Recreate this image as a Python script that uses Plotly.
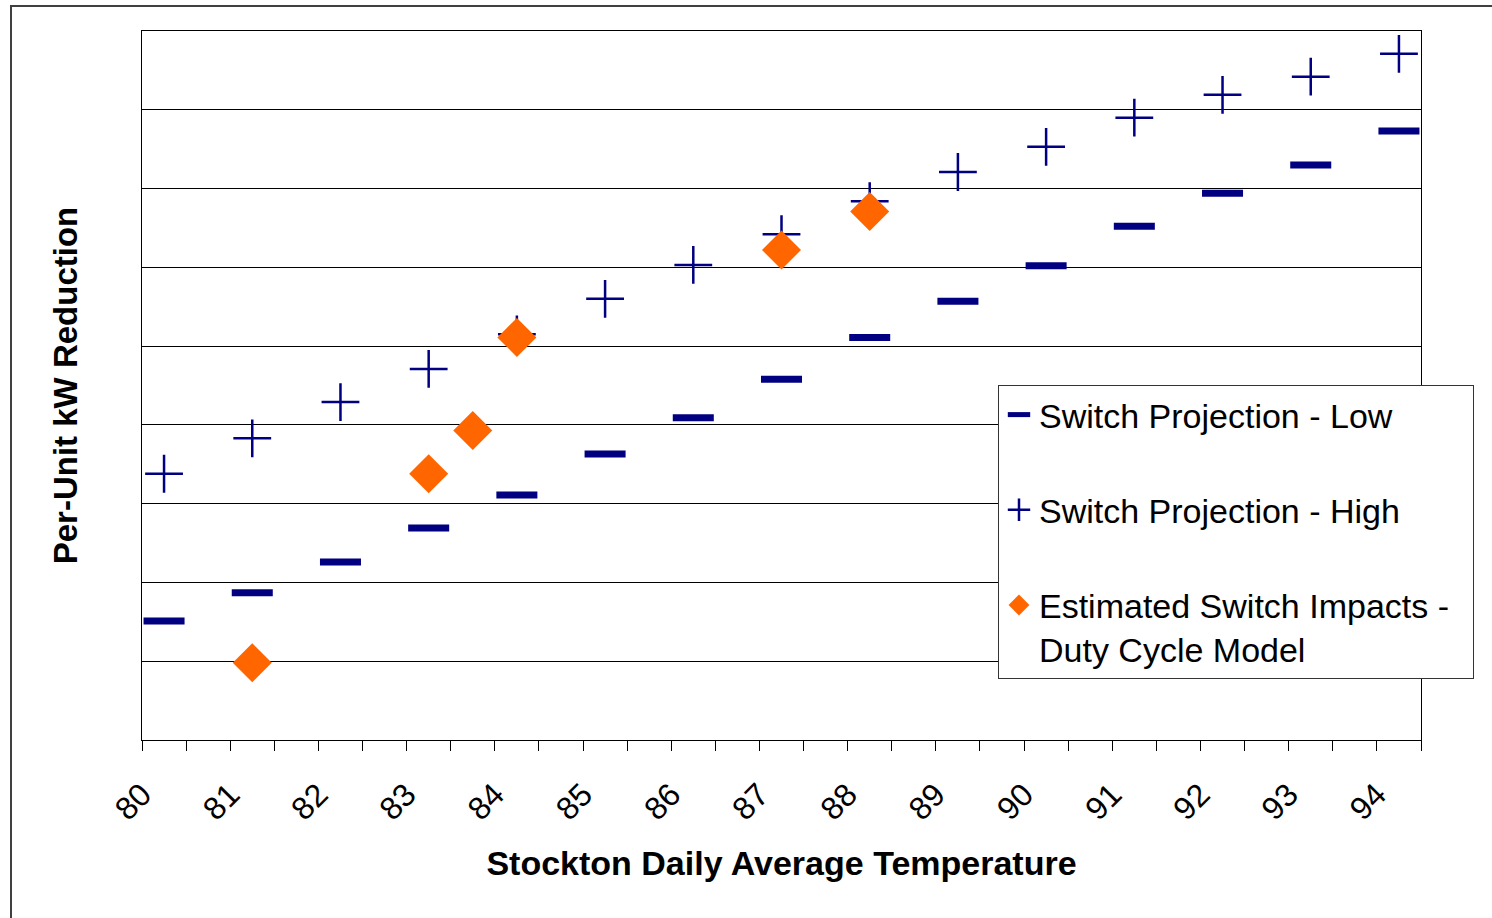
import plotly.graph_objects as go

# Temperature bins (deg F) and projected per-unit kW reduction
temps = [80.25, 81.25, 82.25, 83.25, 84.25, 85.25, 86.25, 87.25,
         88.25, 89.25, 90.25, 91.25, 92.25, 93.25, 94.25]
proj_low = [0.151, 0.187, 0.226, 0.269, 0.311, 0.363, 0.409, 0.458,
            0.511, 0.557, 0.602, 0.652, 0.694, 0.730, 0.773]
proj_high = [0.338, 0.383, 0.429, 0.471, 0.515, 0.560, 0.603, 0.642,
             0.684, 0.721, 0.753, 0.790, 0.819, 0.842, 0.871]

# Duty-cycle model estimates
est_temps = [81.25, 83.25, 83.75, 84.25, 87.25, 88.25]
est_impacts = [0.098, 0.338, 0.393, 0.511, 0.622, 0.671]

tick_vals = [80, 81, 82, 83, 84, 85, 86, 87, 88, 89, 90, 91, 92, 93, 94]
tick_text = [str(v) for v in tick_vals]

FONT = "Liberation Sans, Arial, sans-serif"
NAVY = "#000080"
ORANGE = "#FF6600"

W, H = 1492, 918
L, R, T, B = 142, 71, 31, 178
PW, PH = W - L - R, H - T - B


def px_x(p):
    return (p - L) / PW


def px_y(p):
    return (H - B - p) / PH


fig = go.Figure()

fig.add_trace(go.Scatter(
    x=temps, y=proj_low, mode="markers", name="Switch Projection - Low",
    legendgroup="low",
    marker=dict(symbol="line-ew", size=29.3, color=NAVY,
                line=dict(color=NAVY, width=7)),
))
fig.add_trace(go.Scatter(
    x=temps, y=proj_high, mode="markers", name="Switch Projection - High",
    legendgroup="high",
    marker=dict(symbol="cross-thin", size=27, color=NAVY,
                line=dict(color=NAVY, width=2.5)),
))
fig.add_trace(go.Scatter(
    x=est_temps, y=est_impacts, mode="markers",
    name="Estimated Switch Impacts -&nbsp;&nbsp;<br>Duty Cycle Model",
    legendgroup="est",
    marker=dict(symbol="diamond", size=30, color=ORANGE,
                line=dict(width=0)),
))

fig.update_layout(
    width=W, height=H,
    margin=dict(l=L, r=R, t=T, b=B, autoexpand=False),
    paper_bgcolor="white", plot_bgcolor="white",
    font=dict(family=FONT, color="black"),
    showlegend=True,
    legend=dict(
        x=px_x(998), y=px_y(385), xanchor="left", yanchor="top",
        bgcolor="white", bordercolor="#333333", borderwidth=1,
        font=dict(family=FONT, size=34, color="black"),
        tracegroupgap=48, valign="top", itemsizing="trace",
    ),
    xaxis=dict(
        range=[80, 94.5], tickvals=tick_vals, ticktext=tick_text,
        tickangle=-45, tickfont=dict(family=FONT, size=32, color="black"),
        ticklabelstandoff=12,
        ticks="outside", ticklen=10, tickcolor="black", tickwidth=1,
        minor=dict(dtick=0.5, tick0=80, ticks="outside", ticklen=10,
                   tickcolor="black", tickwidth=1, showgrid=False),
        showgrid=False, zeroline=False,
        showline=True, linecolor="black", linewidth=1, mirror=True,
        title=dict(text="Stockton Daily Average Temperature",
                   font=dict(family=FONT, size=34, color="black", weight="bold"),
                   standoff=25),
        automargin=False,
    ),
    yaxis=dict(
        range=[0, 0.9], dtick=0.1, tick0=0,
        showticklabels=False, ticks="",
        showgrid=True, gridcolor="black", gridwidth=1, zeroline=False,
        showline=True, linecolor="black", linewidth=1, mirror=True,
        title=dict(text="Per-Unit kW Reduction",
                   font=dict(family=FONT, size=33, color="black", weight="bold"),
                   standoff=53),
        automargin=False,
    ),
    shapes=[dict(
        type="rect", xref="paper", yref="paper",
        x0=px_x(11), x1=px_x(1560), y0=px_y(940), y1=px_y(6),
        line=dict(color="#404040", width=2), fillcolor="rgba(0,0,0,0)",
        layer="below",
    )],
)

fig.write_html("out.html")
